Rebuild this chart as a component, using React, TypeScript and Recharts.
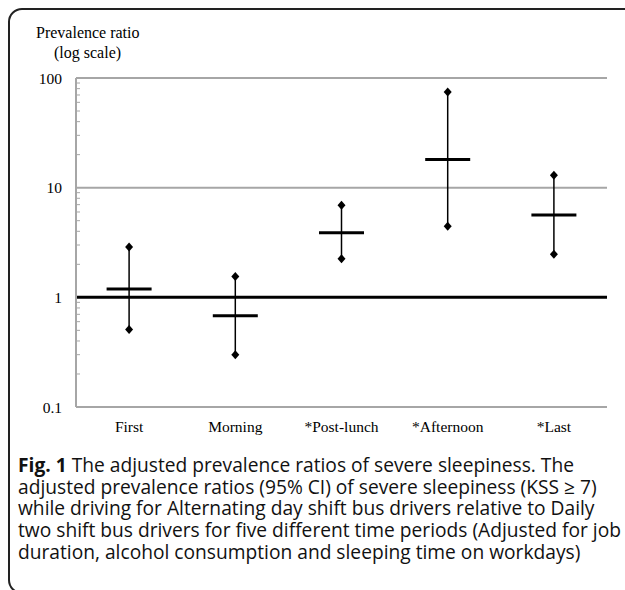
import React from 'react';
import { ComposedChart, Scatter, XAxis, YAxis, ReferenceLine, ErrorBar } from 'recharts';

const periods = ['First', 'Morning', '*Post-lunch', '*Afternoon', '*Last'];
const ratios = [1.19, 0.68, 3.89, 18.1, 5.63];
const lowerCI = [0.51, 0.30, 2.25, 4.44, 2.47];
const upperCI = [2.87, 1.55, 6.9, 74.4, 13.0];
const yTicks = [0.1, 1, 10, 100];
const minorTicks = [0.2, 0.3, 0.4, 0.5, 0.6, 0.7, 0.8, 0.9, 2, 3, 4, 5, 6, 7, 8, 9, 20, 30, 40, 50, 60, 70, 80, 90];

const captionLines = [
  ['Fig. 1', ' The adjusted prevalence ratios of severe sleepiness. The'],
  ['', 'adjusted prevalence ratios (95% CI) of severe sleepiness (KSS \u2265 7)'],
  ['', 'while driving for Alternating day shift bus drivers relative to Daily'],
  ['', 'two shift bus drivers for five different time periods (Adjusted for job'],
  ['', 'duration, alcohol consumption and sleeping time on workdays)'],
];

const data = periods.map((name, i) => ({
  name,
  pr: ratios[i],
  lo: lowerCI[i],
  hi: upperCI[i],
  err: [ratios[i] - lowerCI[i], upperCI[i] - ratios[i]],
}));

const Diamond = (p: any) => {
  const { cx, cy } = p;
  if (cx == null || cy == null) return null;
  return <path d={`M${cx},${cy - 4.5}L${cx + 4},${cy}L${cx},${cy + 4.5}L${cx - 4},${cy}Z`} fill="#000" />;
};

const Bar = (p: any) => {
  const { cx, cy } = p;
  if (cx == null || cy == null) return null;
  return <line x1={cx - 22.5} x2={cx + 22.5} y1={cy} y2={cy} stroke="#000" strokeWidth={3} />;
};

const Nothing = () => <g />;

const serif = '"Liberation Serif", "Times New Roman", serif';

export default function App() {
  return (
    <div style={{ position: 'fixed', left: 0, top: 0, width: 625, height: 590, overflow: 'hidden', background: '#fff' }}>
      <div
        style={{
          position: 'absolute',
          left: 8,
          top: 8,
          width: 700,
          height: 586,
          boxSizing: 'border-box',
          border: '2px solid #222',
          borderRadius: 14,
        }}
      />
      <div style={{ position: 'absolute', left: 36, top: 23, fontFamily: serif, fontSize: 16, color: '#000', lineHeight: '20px' }}>
        Prevalence ratio
      </div>
      <div style={{ position: 'absolute', left: 54, top: 43, fontFamily: serif, fontSize: 16, color: '#000', lineHeight: '20px' }}>
        (log scale)
      </div>
      <div style={{ position: 'absolute', left: 0, top: 0 }}>
        <ComposedChart width={625} height={450} data={data} margin={{ top: 78, right: 18, left: 0, bottom: 13 }}>
          <XAxis
            dataKey="name"
            type="category"
            scale="band"
            interval={0}
            height={30}
            tickLine={false}
            tickSize={0}
            tickMargin={14}
            axisLine={{ stroke: '#a6a6a6', strokeWidth: 2 }}
            tick={{ fill: '#000', fontFamily: serif, fontSize: 15.5 }}
          />
          <YAxis
            type="number"
            scale="log"
            domain={[0.1, 100]}
            allowDataOverflow
            ticks={yTicks}
            interval={0}
            width={76}
            tickLine={false}
            tickSize={0}
            tickMargin={14}
            tickFormatter={(v: number) => String(v)}
            axisLine={{ stroke: '#a6a6a6', strokeWidth: 2 }}
            tick={{ fill: '#000', fontFamily: serif, fontSize: 15.5 }}
          />
          <YAxis
            yAxisId="minor"
            type="number"
            scale="log"
            domain={[0.1, 100]}
            allowDataOverflow
            ticks={minorTicks}
            interval={0}
            mirror
            width={20}
            tick={Nothing}
            tickSize={4}
            tickLine={{ stroke: '#a6a6a6', strokeWidth: 1 }}
            axisLine={false}
          />
          <ReferenceLine y={100} stroke="#a6a6a6" strokeWidth={2} />
          <ReferenceLine y={10} stroke="#a6a6a6" strokeWidth={2} />
          <ReferenceLine y={1} stroke="#000" strokeWidth={3} />
          <Scatter yAxisId="minor" dataKey="pr" shape={Nothing} isAnimationActive={false} />
          <Scatter dataKey="pr" shape={Bar} isAnimationActive={false}>
            <ErrorBar dataKey="err" direction="y" width={0} stroke="#000" strokeWidth={1.5} isAnimationActive={false} />
          </Scatter>
          <Scatter dataKey="lo" shape={Diamond} isAnimationActive={false} />
          <Scatter dataKey="hi" shape={Diamond} isAnimationActive={false} />
        </ComposedChart>
      </div>
      <div
        style={{
          position: 'absolute',
          left: 18,
          top: 454,
          fontFamily: '"Open Sans", sans-serif',
          fontSize: 19.2,
          lineHeight: '21.7px',
          color: '#111',
          whiteSpace: 'nowrap',
        }}
      >
        {captionLines.map((l, i) => (
          <div key={i}>
            {l[0] ? <b>{l[0]}</b> : null}
            {l[1]}
          </div>
        ))}
      </div>
    </div>
  );
}
